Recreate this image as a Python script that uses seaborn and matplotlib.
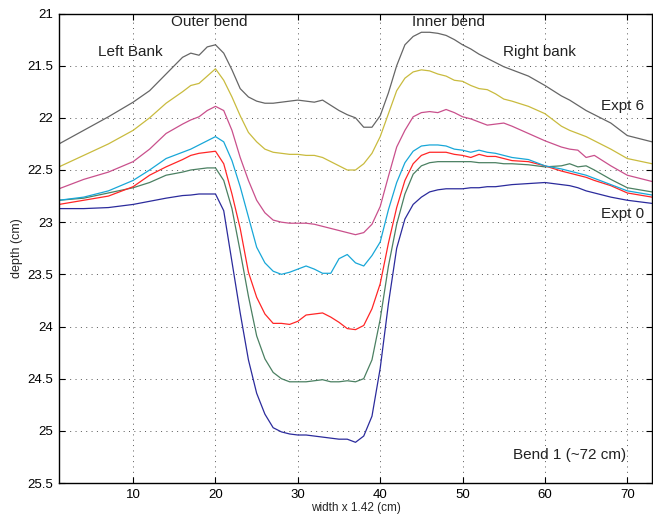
#recreating the bend 1 cross-section depth profiles
import pandas as pd
import seaborn as sns
import numpy as np
import matplotlib.pyplot as plt

#width positions (x 1.42 cm)
width = [1, 4, 7, 10, 12, 14, 16, 17, 18, 19,
         20, 21, 22, 23, 24, 25, 26, 27, 28, 29, 30, 31, 32, 33, 34, 35, 36, 37, 38,
         39, 40, 41, 42, 43, 44, 45, 46, 47, 48, 49, 50, 51, 52, 53, 54, 55, 56,
         58, 60, 62, 63, 64, 65, 66, 68, 70, 73]

expt6 = [22.25, 22.12, 21.99, 21.85, 21.74, 21.58, 21.42, 21.38, 21.40, 21.32,
         21.30, 21.38, 21.54, 21.72, 21.80, 21.84, 21.86, 21.86, 21.85, 21.84, 21.83, 21.84, 21.85, 21.83, 21.88, 21.93, 21.97, 22.00, 22.09,
         22.09, 21.98, 21.76, 21.50, 21.30, 21.22, 21.18, 21.18, 21.19, 21.21, 21.25, 21.30, 21.34, 21.39, 21.43, 21.47, 21.51, 21.54,
         21.60, 21.69, 21.79, 21.83, 21.88, 21.93, 21.97, 22.05, 22.17, 22.23]
expt5 = [22.47, 22.36, 22.25, 22.12, 22.00, 21.86, 21.75, 21.69, 21.67, 21.60,
         21.53, 21.64, 21.80, 21.98, 22.14, 22.23, 22.30, 22.33, 22.34, 22.35, 22.35, 22.36, 22.36, 22.38, 22.42, 22.46, 22.50, 22.50, 22.44,
         22.34, 22.18, 21.96, 21.74, 21.62, 21.56, 21.54, 21.55, 21.58, 21.60, 21.64, 21.65, 21.69, 21.72, 21.73, 21.77, 21.82, 21.84,
         21.89, 21.96, 22.08, 22.12, 22.15, 22.18, 22.22, 22.30, 22.39, 22.44]
expt4 = [22.68, 22.59, 22.52, 22.42, 22.30, 22.15, 22.06, 22.02, 21.99, 21.93,
         21.89, 21.93, 22.12, 22.38, 22.60, 22.79, 22.91, 22.98, 23.00, 23.01, 23.01, 23.01, 23.02, 23.04, 23.06, 23.08, 23.10, 23.12, 23.10,
         23.02, 22.85, 22.56, 22.28, 22.12, 21.99, 21.95, 21.94, 21.95, 21.92, 21.95, 21.99, 22.01, 22.04, 22.07, 22.06, 22.05, 22.08,
         22.15, 22.22, 22.28, 22.30, 22.31, 22.38, 22.36, 22.46, 22.55, 22.61]
expt3 = [22.79, 22.76, 22.70, 22.60, 22.50, 22.39, 22.33, 22.30, 22.26, 22.22,
         22.18, 22.23, 22.41, 22.66, 22.95, 23.24, 23.39, 23.47, 23.50, 23.48, 23.45, 23.42, 23.45, 23.49, 23.49, 23.35, 23.31, 23.39, 23.42,
         23.32, 23.19, 22.88, 22.62, 22.43, 22.32, 22.27, 22.26, 22.26, 22.27, 22.30, 22.31, 22.33, 22.31, 22.33, 22.34, 22.36, 22.38,
         22.40, 22.46, 22.49, 22.51, 22.53, 22.55, 22.58, 22.64, 22.70, 22.74]
expt2 = [22.83, 22.79, 22.75, 22.66, 22.55, 22.47, 22.40, 22.36, 22.34, 22.33,
         22.32, 22.44, 22.73, 23.06, 23.48, 23.72, 23.88, 23.97, 23.97, 23.98, 23.95, 23.89, 23.88, 23.87, 23.91, 23.96, 24.02, 24.03, 23.99,
         23.83, 23.59, 23.20, 22.86, 22.60, 22.44, 22.36, 22.33, 22.33, 22.33, 22.35, 22.36, 22.38, 22.35, 22.37, 22.37, 22.39, 22.41,
         22.42, 22.46, 22.51, 22.53, 22.55, 22.57, 22.60, 22.65, 22.72, 22.76]
expt1 = [22.79, 22.77, 22.72, 22.67, 22.62, 22.55, 22.52, 22.50, 22.49, 22.48,
         22.48, 22.60, 22.87, 23.28, 23.71, 24.09, 24.31, 24.44, 24.50, 24.53, 24.53, 24.53, 24.52, 24.51, 24.53, 24.53, 24.52, 24.53, 24.50,
         24.32, 23.93, 23.42, 23.02, 22.73, 22.54, 22.46, 22.43, 22.42, 22.42, 22.42, 22.42, 22.42, 22.43, 22.43, 22.43, 22.44, 22.44,
         22.45, 22.47, 22.46, 22.44, 22.47, 22.46, 22.50, 22.59, 22.67, 22.71]
expt0 = [22.87, 22.87, 22.86, 22.83, 22.80, 22.77, 22.745, 22.74, 22.73, 22.73,
         22.73, 22.89, 23.38, 23.87, 24.32, 24.64, 24.84, 24.97, 25.01, 25.03, 25.04, 25.04, 25.05, 25.06, 25.07, 25.08, 25.08, 25.11, 25.05,
         24.86, 24.40, 23.78, 23.25, 22.97, 22.83, 22.76, 22.71, 22.69, 22.68, 22.68, 22.68, 22.67, 22.67, 22.66, 22.66, 22.65, 22.64,
         22.63, 22.62, 22.64, 22.65, 22.67, 22.70, 22.72, 22.76, 22.79, 22.82]

names = ['Expt 0', 'Expt 1', 'Expt 2', 'Expt 3', 'Expt 4', 'Expt 5', 'Expt 6']
series = [expt0, expt1, expt2, expt3, expt4, expt5, expt6]
colours = ['#2b2b9c', '#4b8062', '#ff2626', '#18a7d8', '#c9508c', '#c9bb3e', '#666666']

#long-form dataframe for seaborn
df = pd.concat([pd.DataFrame({'width': width, 'depth': s, 'expt': n})
                for n, s in zip(names, series)], ignore_index=True)

sns.set_style("ticks")
plt.rcParams['font.family'] = ['Liberation Sans', 'DejaVu Sans']

fig = plt.figure(figsize=(6.53, 5.24), dpi=100)
ax = fig.add_axes([59/653, 41/524, 593/653, 469.5/524])

sns.lineplot(data=df, x='width', y='depth', hue='expt', hue_order=names,
             palette=dict(zip(names, colours)), linewidth=0.9, legend=False,
             sort=False, ax=ax)

ax.set_xlim(1, 73)
ax.set_ylim(25.5, 21)
ax.set_xticks(np.arange(10, 71, 10))
yt = np.arange(21, 25.51, 0.5)
ax.set_yticks(yt)
ax.set_yticklabels(['%g' % v for v in yt])
ax.tick_params(direction='in', top=True, right=True, length=4, width=0.8,
               labelsize=9.5, colors='black', pad=4)
ax.grid(True, color='#555555', linestyle=(0, (1, 4.5)), linewidth=0.7)
for sp in ax.spines.values():
    sp.set_color('black')
    sp.set_linewidth(1.0)

ax.set_xlabel('width x 1.42 (cm)', fontsize=8.5, labelpad=1)
ax.set_ylabel('depth (cm)', fontsize=9, labelpad=3)

#annotations
tk = dict(fontsize=11, color='#222222')
ax.text(19.3, 21.08, 'Outer bend', ha='center', va='center', **tk)
ax.text(9.6, 21.37, 'Left Bank', ha='center', va='center', **tk)
ax.text(48.3, 21.08, 'Inner bend', ha='center', va='center', **tk)
ax.text(59.3, 21.37, 'Right bank', ha='center', va='center', **tk)
ax.text(72.1, 21.89, 'Expt 6', ha='right', va='center', **tk)
ax.text(72.1, 22.92, 'Expt 0', ha='right', va='center', **tk)
ax.text(63.0, 25.23, 'Bend 1 (~72 cm)', ha='center', va='center', **tk)

fig.savefig('out.png', dpi=100)
